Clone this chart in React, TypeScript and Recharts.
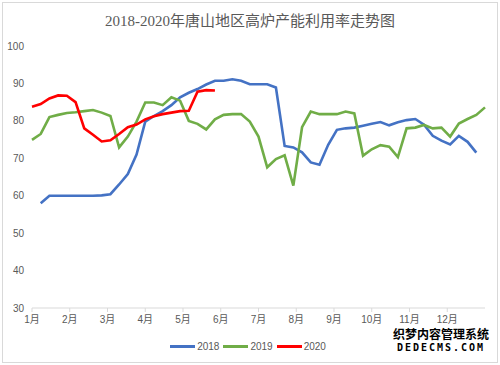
import { LineChart, Line, XAxis, YAxis, Legend } from "recharts";

const monthLabels = ["1月", "2月", "3月", "4月", "5月", "6月", "7月", "8月", "9月", "10月", "11月", "12月"];
const yTicks = [30, 40, 50, 60, 70, 80, 90, 100];

// weekly values, index = week of year (0..52)
const y2018 = [
  null, 58.0, 60.0, 60.0, 60.0, 60.0, 60.0, 60.0, 60.1, 60.4,
  63.0, 65.8, 71.0, 79.8, 81.3, 82.6, 84.2, 86.3, 87.5, 88.5,
  89.7, 90.7, 90.7, 91.1, 90.7, 89.8, 89.8, 89.8, 88.9, 73.3,
  72.9, 71.6, 68.9, 68.3, 73.6, 77.6, 78.0, 78.2, 78.7, 79.2,
  79.7, 78.8, 79.6, 80.2, 80.5, 79.0, 76.0, 74.7, 73.7, 76.0,
  74.4, 71.5, null,
];
const y2019 = [
  74.9, 76.5, 81.0, 81.6, 82.1, 82.3, 82.6, 82.9, 82.2, 81.3,
  72.9, 75.8, 79.8, 84.9, 84.9, 84.2, 86.3, 85.4, 80.0, 79.2,
  77.7, 80.4, 81.6, 81.8, 81.8, 79.8, 75.8, 67.6, 69.8, 70.8,
  62.7, 78.3, 82.5, 81.8, 81.8, 81.8, 82.5, 82.0, 70.7, 72.4,
  73.5, 73.1, 70.3, 78.0, 78.2, 78.9, 78.0, 78.2, 75.8, 79.3,
  80.5, 81.6, 83.6,
];
const y2020 = [
  83.8, 84.5, 86.0, 86.8, 86.7, 85.0, 78.0, 76.3, 74.5, 74.8,
  76.5, 78.3, 79.0, 80.4, 81.2, 81.8, 82.2, 82.6, 82.7, 87.8,
  88.2, 88.1,
];

const series = [
  { key: "y2018", name: "2018", color: "#4472C4" },
  { key: "y2019", name: "2019", color: "#70AD47" },
  { key: "y2020", name: "2020", color: "#FF0000" },
];

const data = y2019.map((v, i) => ({
  w: i,
  y2018: y2018[i],
  y2019: v,
  y2020: i < y2020.length ? y2020[i] : null,
}));

const monthTicks = monthLabels.map((_, i) => (i * 52) / 12);

const LegendBox = () => (
  <div style={{ display: "flex", justifyContent: "center", alignItems: "center", fontSize: 10, color: "#595959" }}>
    {series.map((s) => (
      <div key={s.key} style={{ display: "flex", alignItems: "center", marginRight: 4 }}>
        <div style={{ width: 25, height: 3, background: s.color, marginRight: 2 }} />
        <span>{s.name}</span>
      </div>
    ))}
  </div>
);

export default function App() {
  return (
    <div style={{ position: "absolute", left: 0, top: 0, width: 500, height: 365, background: "#fff", fontFamily: "'Liberation Sans', 'Noto Sans CJK SC', sans-serif" }}>
      <div style={{ position: "absolute", left: 2, top: 2, width: 494, height: 359, border: "1px solid #d9d9d9" }} />
      <div style={{ position: "absolute", top: 9, left: 0, width: 500, textAlign: "center", fontSize: 15, color: "#595959", fontFamily: "'Liberation Serif', 'Noto Sans CJK SC', serif" }}>
        2018-2020年唐山地区高炉产能利用率走势图
      </div>
      <LineChart width={500} height={365} data={data} margin={{ top: 46, right: 15, left: 0, bottom: 37 }}>
        <XAxis
          type="number"
          dataKey="w"
          domain={[0, 52]}
          ticks={monthTicks}
          interval={0}
          tickFormatter={(v: number) => monthLabels[Math.round((v * 12) / 52)]}
          axisLine={{ stroke: "#d9d9d9" }}
          tickLine={{ stroke: "#d9d9d9" }}
          tickSize={4}
          tickMargin={4}
          tick={{ fontSize: 10, fill: "#595959" }}
          height={20}
        />
        <YAxis
          domain={[30, 100]}
          ticks={yTicks}
          interval={0}
          axisLine={false}
          tickLine={false}
          tickSize={0}
          tickMargin={8}
          width={32}
          tick={{ fontSize: 10, fill: "#595959" }}
        />
        <Legend
          layout="horizontal"
          verticalAlign="middle"
          align="center"
          content={() => <LegendBox />}
          wrapperStyle={{ top: 341, left: 0, width: 500 }}
        />
        {series.map((s) => (
          <Line
            key={s.key}
            type="linear"
            dataKey={s.key}
            name={s.name}
            stroke={s.color}
            strokeWidth={2.6}
            dot={false}
            isAnimationActive={false}
          />
        ))}
      </LineChart>
      <div style={{ position: "absolute", left: 391, top: 329, width: 100, textAlign: "center", fontWeight: "bold", color: "#000", textShadow: "0 0 2px #fff, 0 0 2px #fff", lineHeight: 1 }}>
        <div style={{ fontSize: 12 }}>织梦内容管理系统</div>
        <div style={{ fontSize: 10, letterSpacing: 2, fontFamily: "'DejaVu Sans Mono', monospace", marginTop: 2 }}>DEDECMS.COM</div>
      </div>
    </div>
  );
}
